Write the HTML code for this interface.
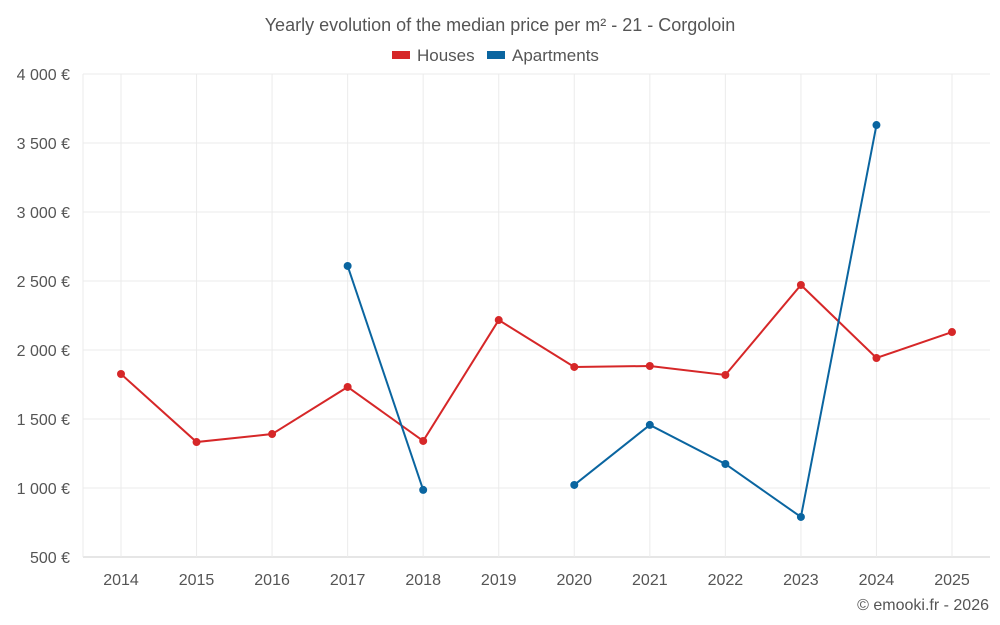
<!DOCTYPE html>
<html><head><meta charset="utf-8"><style>
body{margin:0;background:#fff;font-family:"Liberation Sans",sans-serif}
</style></head><body>
<svg id="c" width="1000" height="625" style="display:block">
<text x="500" y="31" text-anchor="middle" font-size="18" fill="#555">Yearly evolution of the median price per m² - 21 - Corgoloin</text>
<g><rect x="392" y="51" width="18" height="8" fill="#d62728"/><text x="417" y="61" font-size="17" fill="#555">Houses</text></g>
<g><rect x="487" y="51" width="18" height="8" fill="#0a65a0"/><text x="512" y="61" font-size="17" fill="#555">Apartments</text></g>
<text x="989" y="610" text-anchor="end" font-size="16" fill="#555">© emooki.fr - 2026</text>
<g id="g"></g>
</svg>
<script>
const years=[2014,2015,2016,2017,2018,2019,2020,2021,2022,2023,2024,2025];
const houses=[1826,1333,1391,1732,1341,2217,1877,1884,1819,2471,1942,2130];
const apartments=[null,null,null,2609,986,null,1022,1457,1174,790,3630,null];
const yTicks=[500,1000,1500,2000,2500,3000,3500,4000];
const yLabels=["500 €","1 000 €","1 500 €","2 000 €","2 500 €","3 000 €","3 500 €","4 000 €"];
const L=83,R=990,T=74,B=557,ymin=500,ymax=4000;
const xS=i=>121+i*(952-121)/(years.length-1);
const yS=v=>B-(v-ymin)/(ymax-ymin)*(B-T);
const g=document.getElementById('g');
const NS='http://www.w3.org/2000/svg';
function mk(t,a){const e=document.createElementNS(NS,t);for(const k in a)e.setAttribute(k,a[k]);g.appendChild(e);return e;}
yTicks.forEach((v,i)=>{
 const l=mk('line',{x1:L,x2:R,y1:yS(v),y2:yS(v),stroke:i==0?'#ccc':'#ebebeb'});
 
 
 const t=mk('text',{x:70,y:yS(v)+6,'text-anchor':'end','font-size':16,fill:'#555'});
 t.textContent=yLabels[i];
 
 
});
const vl=mk('line',{x1:L,x2:L,y1:T,y2:B,stroke:'#ebebeb'});


years.forEach((y,i)=>{
 const l=mk('line',{x1:xS(i),x2:xS(i),y1:T,y2:B,stroke:'#ebebeb'});
 
 
 const t=mk('text',{x:xS(i),y:585,'text-anchor':'middle','font-size':16,fill:'#555'});
 t.textContent=y;
 
 
});
function series(data,color,name){
 let segs=[],cur=[];
 data.forEach((v,i)=>{if(v==null){if(cur.length)segs.push(cur);cur=[];}else cur.push([xS(i),yS(v)]);});
 if(cur.length)segs.push(cur);
 segs.forEach(s=>{
  const p=mk('polyline',{points:s.map(q=>q.join(',')).join(' '),fill:'none',stroke:color,'stroke-width':2});
  
  
 });
 data.forEach((v,i)=>{if(v==null)return;
  const c=mk('circle',{cx:xS(i),cy:yS(v),r:4,fill:color});
  
  
 });
}
series(houses,'#d62728','houses');
series(apartments,'#0a65a0','apartments');
</script>
</body></html>
